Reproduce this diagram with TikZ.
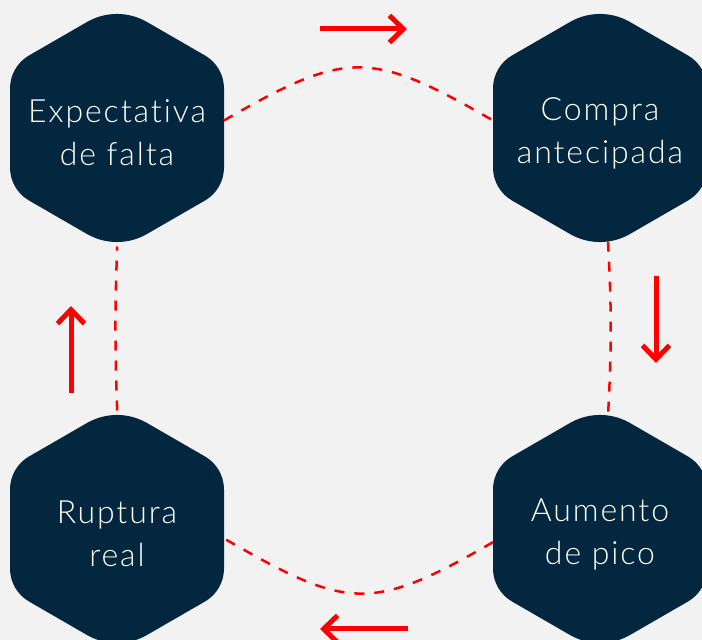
\documentclass[tikz,border=0pt]{standalone}
\usepackage{fontspec}
\IfFontExistsTF{Lato Light}{\setmainfont{Lato Light}[Ligatures=NoCommon]}{\setmainfont{Lato}}
\usetikzlibrary{calc,positioning,arrows.meta,shapes.geometric,backgrounds}
\definecolor{navy}{HTML}{02273F}
\definecolor{paper}{HTML}{F2F2F2}
\tikzstyle{flow}=[draw=red,line width=2.5pt,dash pattern=on 10pt off 10pt]
\tikzstyle{cue}=[draw=red,line width=5pt,-{Straight Barb[length=14pt,width=27pt]}]
% rounded hexagon body behind a step node
\newcommand{\hexbody}[1]{%
  \fill[navy,shift={(#1.center)}] (-30,106) arc[start angle=120,end angle=60,radius=60]
    -- (88,72.5) arc[start angle=60,end angle=0,radius=38]
    -- (107,-39.6) arc[start angle=0,end angle=-60,radius=38]
    -- (30,-106) arc[start angle=-60,end angle=-120,radius=60]
    -- (-88,-72.5) arc[start angle=-120,end angle=-180,radius=38]
    -- (-107,39.6) arc[start angle=180,end angle=120,radius=38] -- cycle;}

\begin{document}
\begin{tikzpicture}[x=1pt,y=1pt,
    hexa/.style={regular polygon,regular polygon sides=6,shape border rotate=30,
      minimum size=247pt,inner sep=0pt,outer sep=0pt},
    lbl/.style={text=white,align=center,yshift=-5pt,
      font=\addfontfeatures{LetterSpace=6}\fontsize{32}{43}\selectfont}
    ]
    \useasboundingbox (0,0) rectangle (702,640);
    \clip (0,0) rectangle (702,640);

    % the four steps
    \node[hexa,label={[lbl]center:Expectativa\\de falta}] (fal) at (117,512) {};
    \node[hexa,label={[lbl]center:Compra\\antecipada}] (com) at (600,512) {};
    \node[hexa,label={[lbl]center:Aumento\\de pico}] (pic) at (600,111) {};
    \node[hexa,label={[lbl]center:Ruptura\\real}] (rup) at (117,111) {};

    % hexagon bodies
    \begin{scope}[on background layer]
      \fill[paper] (0,0) rectangle (702,640);
      \foreach \h in {fal,com,pic,rup} {
        \hexbody{\h}
      }
    \end{scope}

    % dashed cycle
    \draw[flow] (fal.4) to[out=30,in=150,looseness=1.35] (com.176);
    \draw[flow,shorten <=-5pt,shorten >=-5pt] (com.-86) to[out=-87,in=87] (pic.86);
    \draw[flow] (pic.187) to[out=-150,in=-30,looseness=1.35] (rup.-5);
    \draw[flow,shorten <=-5pt,shorten >=-5pt] (rup.90) to[out=92,in=-92] (fal.-90);

    % direction arrows
    \foreach \n/\xa/\ya/\xb/\yb in {top/320/611/407/611,rgt/656/364/656/277,%
      bot/408/11/320/11,lft/71/247/71/334} {
      \coordinate (\n s) at (\xa,\ya);
      \coordinate (\n e) at (\xb,\yb);
      \draw[cue] (\n s) -- (\n e);
    }

  \end{tikzpicture}
\end{document}
